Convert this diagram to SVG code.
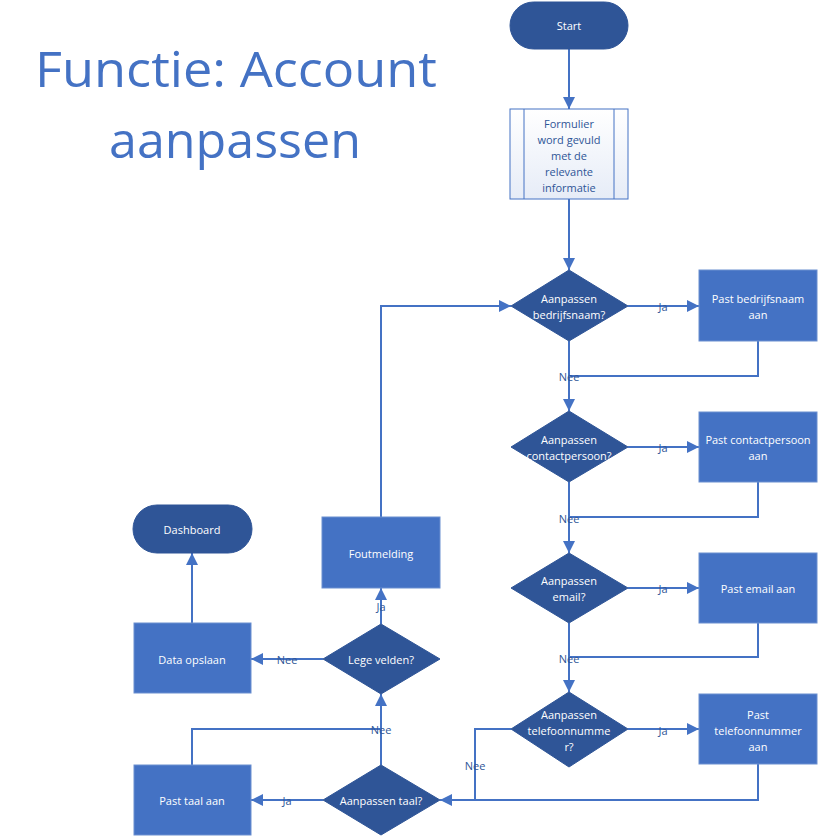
<svg xmlns="http://www.w3.org/2000/svg" width="824" height="837" viewBox="0 0 824 837">
<defs>
<marker id="arr" viewBox="0 0 10 10" refX="10" refY="5" markerWidth="6" markerHeight="6" orient="auto" markerUnits="strokeWidth">
<path d="M0,0 L10,5 L0,10 z" fill="#4472C4"/>
</marker>
<linearGradient id="sub" x1="0" y1="0" x2="0" y2="1">
<stop offset="0" stop-color="#ffffff"/>
<stop offset="1" stop-color="#e6ecf7"/>
</linearGradient>
<style>
.t{font-family:"Open Sans","Liberation Sans",sans-serif;font-size:11px;fill:#ffffff;text-anchor:middle;dominant-baseline:central}
.tb{font-family:"Open Sans","Liberation Sans",sans-serif;font-size:11px;fill:#2F5597;text-anchor:middle;dominant-baseline:central}
.lbl{font-family:"Open Sans","Liberation Sans",sans-serif;font-size:11px;fill:#2F5597;text-anchor:middle;dominant-baseline:central}
.dia{fill:#2F5597;stroke:#2F5597;stroke-width:1}
.box{fill:#4472C4;stroke:#6b8fd0;stroke-width:1}
.term{fill:#2F5597;stroke:#2F5597;stroke-width:1}
.c{fill:none;stroke:#4472C4;stroke-width:2}
.ca{fill:none;stroke:#4472C4;stroke-width:2;marker-end:url(#arr)}
.title{font-family:"Open Sans","Liberation Sans",sans-serif;font-size:50px;fill:#4472C4;text-anchor:middle}
</style>
</defs>
<rect width="824" height="837" fill="#ffffff"/>
<g id="title">
<text class="title" x="236" y="87" textLength="402" lengthAdjust="spacingAndGlyphs">Functie: Account</text>
<text class="title" x="235" y="158" textLength="252" lengthAdjust="spacingAndGlyphs">aanpassen</text>
</g>
<g id="connectors">
<path class="ca" d="M569,49 V109"/>
<path class="ca" d="M569,199 V270"/>
<path class="ca" d="M628,306 H699"/>
<path class="ca" d="M569,341 V411"/>
<path class="c" d="M758,341 V376 H569"/>
<path class="ca" d="M628,447 H699"/>
<path class="ca" d="M569,482 V553"/>
<path class="c" d="M758,482 V517 H569"/>
<path class="ca" d="M628,588 H699"/>
<path class="ca" d="M569,623 V692"/>
<path class="c" d="M758,623 V657 H569"/>
<path class="ca" d="M628,729 H699"/>
<path class="ca" d="M511,729 H475 V800 H440"/>
<path class="c" d="M758,764 V800 H475"/>
<path class="ca" d="M323,800 H251"/>
<path class="ca" d="M381,765 V694"/>
<path class="c" d="M192,765 V729 H381"/>
<path class="ca" d="M323,659 H251"/>
<path class="ca" d="M381,624 V588"/>
<path class="ca" d="M381,517 V306 H511"/>
<path class="ca" d="M192,623 V553"/>
<text class="lbl" x="663" y="306">Ja</text>
<text class="lbl" x="569" y="376">Nee</text>
<text class="lbl" x="663" y="447">Ja</text>
<text class="lbl" x="569" y="518">Nee</text>
<text class="lbl" x="663" y="588">Ja</text>
<text class="lbl" x="569" y="658">Nee</text>
<text class="lbl" x="663" y="730">Ja</text>
<text class="lbl" x="475" y="765">Nee</text>
<text class="lbl" x="287" y="800">Ja</text>
<text class="lbl" x="381" y="729">Nee</text>
<text class="lbl" x="287" y="659">Nee</text>
<text class="lbl" x="381" y="606">Ja</text>
</g>
<g id="start">
<rect class="term" x="510" y="2" width="118" height="47" rx="23.5"/>
<text class="t" x="569" y="25">Start</text>
</g>
<g id="formulier">
<rect x="510" y="109" width="118" height="90" fill="url(#sub)" stroke="#4472C4" stroke-width="1"/>
<line x1="524" y1="109" x2="524" y2="199" stroke="#4472C4" stroke-width="1"/>
<line x1="614" y1="109" x2="614" y2="199" stroke="#4472C4" stroke-width="1"/>
<text class="tb" x="569" y="123">Formulier</text>
<text class="tb" x="569" y="139">word gevuld</text>
<text class="tb" x="569" y="155">met de</text>
<text class="tb" x="569" y="171">relevante</text>
<text class="tb" x="569" y="187">informatie</text>
</g>
<g id="d-bedrijfsnaam">
<polygon class="dia" points="569,270 628,306 569,341 511,306"/>
<text class="t" x="569" y="298">Aanpassen</text>
<text class="t" x="569" y="314">bedrijfsnaam?</text>
</g>
<g id="b-bedrijfsnaam">
<rect class="box" x="699" y="270" width="118" height="71"/>
<text class="t" x="758" y="298">Past bedrijfsnaam</text>
<text class="t" x="758" y="314">aan</text>
</g>
<g id="d-contactpersoon">
<polygon class="dia" points="569,411 628,447 569,482 511,447"/>
<text class="t" x="569" y="439">Aanpassen</text>
<text class="t" x="569" y="455">contactpersoon?</text>
</g>
<g id="b-contactpersoon">
<rect class="box" x="699" y="412" width="118" height="70"/>
<text class="t" x="758" y="439">Past contactpersoon</text>
<text class="t" x="758" y="455">aan</text>
</g>
<g id="d-email">
<polygon class="dia" points="569,553 628,588 569,623 511,588"/>
<text class="t" x="569" y="580">Aanpassen</text>
<text class="t" x="569" y="596">email?</text>
</g>
<g id="b-email">
<rect class="box" x="699" y="553" width="118" height="70"/>
<text class="t" x="758" y="588">Past email aan</text>
</g>
<g id="d-telefoon">
<polygon class="dia" points="569,692 628,729 569,767 511,729"/>
<text class="t" x="569" y="714">Aanpassen</text>
<text class="t" x="569" y="730">telefoonnumme</text>
<text class="t" x="569" y="746">r?</text>
</g>
<g id="b-telefoon">
<rect class="box" x="699" y="694" width="118" height="70"/>
<text class="t" x="758" y="714">Past</text>
<text class="t" x="758" y="730">telefoonnummer</text>
<text class="t" x="758" y="746">aan</text>
</g>
<g id="d-taal">
<polygon class="dia" points="381,765 440,800 381,835 323,800"/>
<text class="t" x="381" y="800">Aanpassen taal?</text>
</g>
<g id="b-taal">
<rect class="box" x="134" y="765" width="117" height="70"/>
<text class="t" x="192" y="800">Past taal aan</text>
</g>
<g id="d-lege">
<polygon class="dia" points="381,624 440,659 381,694 323,659"/>
<text class="t" x="381" y="659">Lege velden?</text>
</g>
<g id="b-data">
<rect class="box" x="134" y="623" width="117" height="70"/>
<text class="t" x="192" y="659">Data opslaan</text>
</g>
<g id="b-foutmelding">
<rect class="box" x="322" y="517" width="118" height="71"/>
<text class="t" x="381" y="553">Foutmelding</text>
</g>
<g id="dashboard">
<rect class="term" x="133" y="505" width="119" height="48" rx="24"/>
<text class="t" x="192" y="529">Dashboard</text>
</g>
</svg>
